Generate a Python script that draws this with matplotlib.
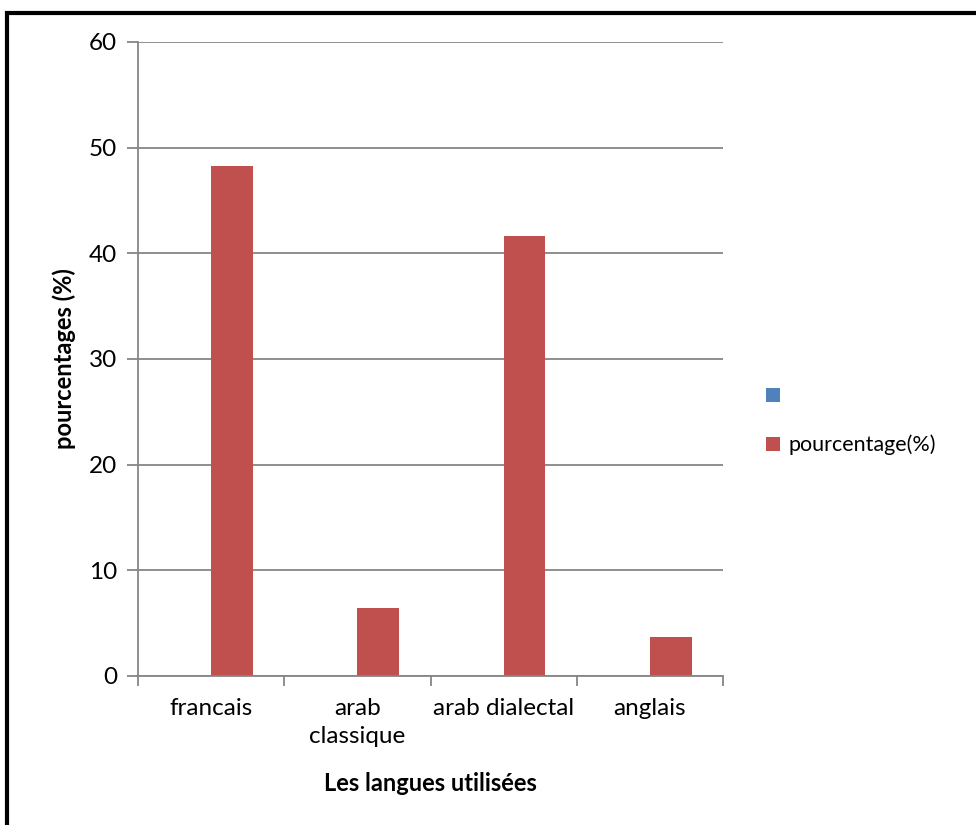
import matplotlib
matplotlib.use("Agg")
import matplotlib.pyplot as plt
from matplotlib.patches import Rectangle
import numpy as np

plt.rcParams['font.family'] = ['Lato', 'DejaVu Sans']

categories = ["francais", "arab\nclassique", "arab dialectal", "anglais"]
series_blank = [0, 0, 0, 0]
series_pct = [48.3, 6.4, 41.6, 3.7]
series_names = ["", "pourcentage(%)"]
y_ticks = [0, 10, 20, 30, 40, 50, 60]

fig = plt.figure(figsize=(9.76, 8.25), dpi=100)
ax = fig.add_axes([138/976, 1-676/825, 585/976, 634/825])

x = np.arange(len(categories))
w = 1/3.5
b1 = ax.bar(x - w/2, series_blank, width=w, color="#4F81BD", label=" ")
b2 = ax.bar(x + w/2, series_pct, width=w, color="#C0504D", label=series_names[1])

ax.set_xlim(-0.5, len(categories) - 0.5)
ax.set_ylim(0, 60)
ax.set_yticks(y_ticks)
ax.yaxis.grid(True, color="#868686", linewidth=1.3)
ax.set_axisbelow(True)
for s in ["top", "right"]:
    ax.spines[s].set_visible(False)
for s in ["left", "bottom"]:
    ax.spines[s].set_color("#868686")
    ax.spines[s].set_linewidth(1.3)

ax.set_xticks(np.arange(len(categories) + 1) - 0.5)
ax.set_xticklabels([])
ax.set_xticks(x, minor=True)
ax.set_xticklabels(categories, minor=True, fontsize=17.5)
for t in ax.get_xticklabels(minor=True):
    t.set_linespacing(1.4)
ax.tick_params(axis="x", which="major", length=7, color="#868686", width=1.3)
ax.tick_params(axis="x", which="minor", length=0, pad=16)
ax.tick_params(axis="y", length=8, color="#868686", width=1.3, labelsize=17.5, pad=7)

ax.set_ylabel("pourcentages (%)", fontsize=17, fontweight="bold", labelpad=9)
ax.set_xlabel("Les langues utilisées", fontsize=17, fontweight="bold", labelpad=18)

leg = fig.legend(handles=[b1, b2], labels=[" ", series_names[1]],
                 loc="center left", bbox_to_anchor=(747/976, 1-421/825),
                 frameon=False, fontsize=15.5, handlelength=0.65, handleheight=0.65,
                 handletextpad=0.4, labelspacing=1.3)

# frame around the figure (only top/left edges visible)
fig.patches.append(Rectangle((7/976, -0.1), 1.2, 1 - 13/825 + 0.1,
                             transform=fig.transFigure, fill=False,
                             edgecolor="black", linewidth=3))

fig.savefig("out.png", dpi=100)
